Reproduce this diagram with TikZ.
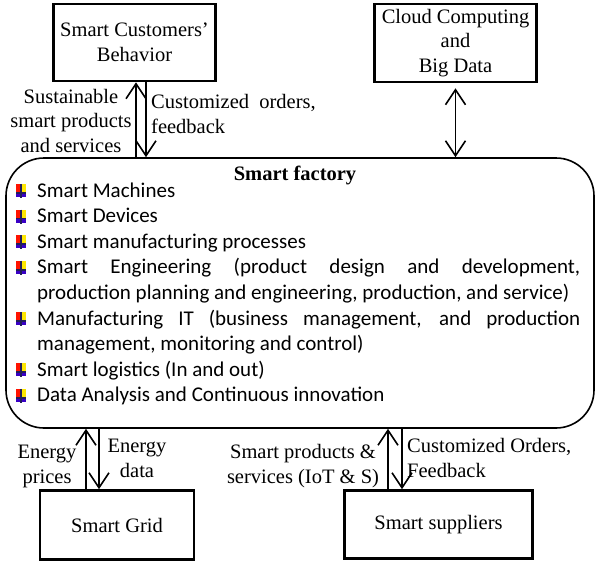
\documentclass[tikz,border=0pt]{standalone}
\usepackage{fontspec}
\setmainfont{Liberation Serif}
\newfontfamily\calib{Carlito}
\usetikzlibrary{arrows.meta}

\definecolor{bulnavy}{RGB}{35,30,90}

\tikzset{
    box/.style = {draw, line width=2.6pt, align=center, inner sep=0pt},
    lbl/.style = {align=center, inner sep=0pt, anchor=base},
    item/.style = {anchor=base west, inner sep=0pt, font=\calib\fontsize{21}{25}\selectfont},
    flow/.style = {-{Straight Barb[length=15pt, width=20pt]}, line width=1.6pt},
    bul/.pic = {
        \fill[red!85!orange] (-5, -13) rectangle (0, -5);
        \fill[yellow!90!orange] (0, -13) rectangle (5, -5);
        \fill[blue!55!violet] (-5, -5) rectangle (5, 0);
        \draw[bulnavy, line width=1.5pt] (0, -13) -- (0, 1);
        \draw[bulnavy, line width=1.5pt] (-5, -4) -- (5, -4);
    }
}

\begin{document}
\begin{tikzpicture}[x=1pt, y=-1pt, font=\fontsize{20.5}{24.5}\selectfont]
    \useasboundingbox (0, 0) rectangle (600, 566);

    % outer boxes
    \node[box, minimum width=162pt, minimum height=77pt] (cust) at (134.5, 42.5) {Smart Customers'\\Behavior};
    \node[box, minimum width=162pt, minimum height=78pt] (cloud) at (455.5, 43) {Cloud Computing\\and\\Big Data};
    \node[box, minimum width=154pt, minimum height=69pt] (grid) at (117, 525) {Smart Grid};
    \node[box, minimum width=188pt, minimum height=68pt] (supp) at (438.5, 524.5) {Smart suppliers};

    % smart factory
    \node[draw, line width=1.6pt, rounded corners=38pt, minimum width=588pt, minimum height=270pt] (fac) at (300, 293) {};
    \node[lbl, font=\bfseries\fontsize{20.5}{24.5}\selectfont] (title) at (295, 180) {Smart factory};

    \node[item] (l1) at (37, 197) {Smart Machines};
    \node[item] (l2) at (37, 222.6) {Smart Devices};
    \node[item] (l3) at (37, 248.2) {Smart manufacturing processes};
    \node[item] (l4) at (37, 273.8) {\makebox[543pt][s]{Smart Engineering (product design and development,}};
    \node[item] (l5) at (37, 299.4) {production planning and engineering, production, and service)};
    \node[item] (l6) at (37, 325) {\makebox[543pt][s]{Manufacturing IT (business management, and production}};
    \node[item] (l7) at (37, 350.6) {management, monitoring and control)};
    \node[item] (l8) at (37, 376.2) {Smart logistics (In and out)};
    \node[item] (l9) at (37, 401.8) {Data Analysis and Continuous innovation};

    \pic at (21, 197) {bul};
    \pic at (21, 222.6) {bul};
    \pic at (21, 248.2) {bul};
    \pic at (21, 273.8) {bul};
    \pic at (21, 325) {bul};
    \pic at (21, 376.2) {bul};
    \pic at (21, 401.8) {bul};

    % customers
    \coordinate (cu) at (136, 0);
    \coordinate (cd) at (146, 0);
    \draw[flow] (cu |- fac.north) -- (cu |- cust.south);
    \draw[flow] (cd |- cust.south) -- (cd |- fac.north);
    \node[lbl] (susL) at (71, 152) {Sustainable\\smart products\\and services};
    \node[lbl, align=left, anchor=base west] (ordL) at (151, 133) {Customized\ \ orders,\\feedback};

    % cloud
    \draw[{Straight Barb[length=15pt, width=20pt]}-{Straight Barb[length=15pt, width=20pt]}, line width=1.6pt, shorten <=5pt] (cloud.south) -- (cloud.south |- fac.north);

    % grid
    \coordinate (gu) at (86, 0);
    \coordinate (gd) at (99, 0);
    \draw[flow] (gu |- grid.north) -- (gu |- fac.south);
    \draw[flow] (gd |- fac.south) -- (gd |- grid.north);
    \node[lbl] (priceL) at (47, 483) {Energy\\prices};
    \node[lbl] (dataL) at (137, 477) {Energy\\data};

    % suppliers
    \coordinate (su) at (388, 0);
    \coordinate (sd) at (402, 0);
    \draw[flow] (su |- supp.north) -- (su |- fac.south);
    \draw[flow] (sd |- fac.south) -- (sd |- supp.north);
    \node[lbl] (iotL) at (303, 483) {Smart products \&\\services (IoT \& S)};
    \node[lbl, align=left, anchor=base west] (fbL) at (407, 477) {Customized Orders,\\Feedback};
\end{tikzpicture}
\end{document}
